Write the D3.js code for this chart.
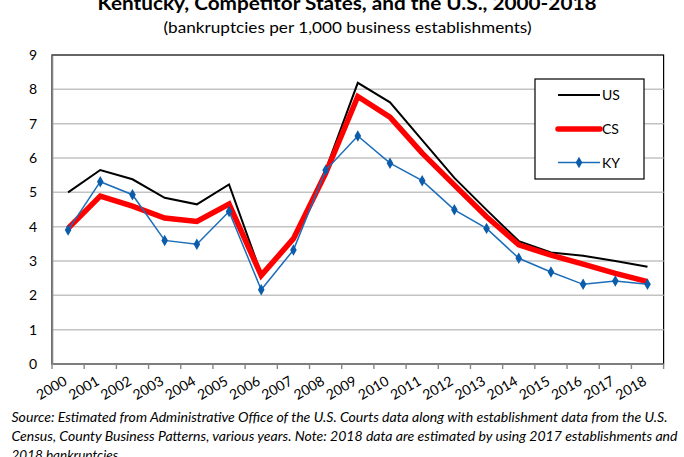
<!DOCTYPE html>
<html>
<head>
<meta charset="utf-8">
<script src="https://cdn.jsdelivr.net/npm/d3@7"></script>
<style>
  html, body { margin: 0; padding: 0; background: #fff; }
  svg { display: block; font-family: Lato, "Open Sans", sans-serif; }
</style>
</head>
<body>
<svg id="chart" width="684" height="457"></svg>
<script>
// Business bankruptcy rates, 2000-2018
const years = ["2000","2001","2002","2003","2004","2005","2006","2007","2008","2009",
               "2010","2011","2012","2013","2014","2015","2016","2017","2018"];
const usValues = [5.0, 5.65, 5.38, 4.84, 4.65, 5.23, 2.62, 3.68, 5.65, 8.19,
                  7.62, 6.52, 5.42, 4.49, 3.58, 3.25, 3.15, 3.0, 2.83];
const csValues = [3.95, 4.89, 4.6, 4.25, 4.15, 4.66, 2.58, 3.65, 5.55, 7.79,
                  7.19, 6.14, 5.21, 4.29, 3.47, 3.17, 2.91, 2.64, 2.40];
const kyValues = [3.90, 5.31, 4.93, 3.60, 3.49, 4.44, 2.16, 3.32, 5.64, 6.64,
                  5.85, 5.34, 4.49, 3.95, 3.08, 2.68, 2.32, 2.42, 2.32];
const yTicks = [0, 1, 2, 3, 4, 5, 6, 7, 8, 9];
const seriesNames = ["US", "CS", "KY"];

const titleText = "Kentucky, Competitor States, and the U.S., 2000-2018";
const subtitleText = "(bankruptcies per 1,000 business establishments)";
const noteLines = [
  "Source: Estimated from Administrative Office of the U.S. Courts data along with establishment data from the U.S.",
  "Census, County Business Patterns, various years.  Note: 2018 data are estimated by using 2017 establishments and",
  "2018 bankruptcies."
];

const svg = d3.select("#chart");
const plot = { left: 52, right: 663.6, top: 55, bottom: 364 };

const x = d3.scaleBand().domain(years).range([plot.left, plot.right]).padding(0);
const y = d3.scaleLinear().domain([0, 9]).range([plot.bottom, plot.top]);
const cx = d => x(d) + x.bandwidth() / 2;

// Title block
svg.append("text")
  .attr("x", 347).attr("y", 9.5)
  .attr("text-anchor", "middle")
  .attr("font-weight", "bold").attr("font-size", 18)
  .attr("textLength", 499).attr("lengthAdjust", "spacingAndGlyphs")
  .attr("fill", "#000")
  .text(titleText);
svg.append("text")
  .attr("x", 347.5).attr("y", 33)
  .attr("text-anchor", "middle")
  .attr("font-size", 15)
  .attr("textLength", 368).attr("lengthAdjust", "spacingAndGlyphs")
  .attr("fill", "#000")
  .text(subtitleText);

// Plot frame
svg.append("rect")
  .attr("x", plot.left).attr("y", plot.top)
  .attr("width", plot.right - plot.left).attr("height", plot.bottom - plot.top)
  .attr("fill", "none").attr("stroke", "#000").attr("stroke-width", 1.2);

// Horizontal gridlines
svg.append("g")
  .selectAll("line")
  .data(yTicks.filter(t => t > 0 && t < 9))
  .join("line")
  .attr("x1", plot.left).attr("x2", plot.right)
  .attr("y1", d => y(d)).attr("y2", d => y(d))
  .attr("stroke", "#c3c3c3").attr("stroke-width", 1.5);

// Y axis
const yAxis = svg.append("g")
  .attr("transform", `translate(${plot.left},0)`)
  .call(d3.axisLeft(y).tickValues(yTicks).tickSize(0).tickPadding(15));
yAxis.select(".domain").attr("stroke", "#868686").attr("stroke-width", 1.6);
yAxis.selectAll("text")
  .attr("font-family", "Lato, sans-serif").attr("font-size", 14).attr("fill", "#000");

// X axis: ticks on category boundaries, rotated labels
const xAxisG = svg.append("g");
xAxisG.append("line")
  .attr("x1", plot.left).attr("x2", plot.right)
  .attr("y1", plot.bottom).attr("y2", plot.bottom)
  .attr("stroke", "#868686").attr("stroke-width", 1.6);
const boundaries = years.map(d => x(d)).concat([x(years[years.length - 1]) + x.bandwidth()]);
xAxisG.selectAll("line.tick")
  .data(boundaries)
  .join("line").attr("class", "tick")
  .attr("x1", d => d).attr("x2", d => d)
  .attr("y1", plot.bottom).attr("y2", plot.bottom + 5)
  .attr("stroke", "#868686").attr("stroke-width", 1.4);
xAxisG.selectAll("text")
  .data(years)
  .join("text")
  .attr("transform", d => `translate(${cx(d)},384) rotate(-30)`)
  .attr("text-anchor", "end")
  .attr("font-size", 14).attr("fill", "#000")
  .text(d => d);

// Series lines
const line = d3.line().x((d, i) => cx(years[i])).y(d => y(d));
const series = [
  { name: "US", values: usValues, color: "#000000", width: 2 },
  { name: "CS", values: csValues, color: "#ff0000", width: 5.5 },
  { name: "KY", values: kyValues, color: "#1b6db9", width: 1.5 }
];
series.forEach(s => {
  svg.append("path")
    .datum(s.values)
    .attr("d", line)
    .attr("fill", "none")
    .attr("stroke", s.color)
    .attr("stroke-width", s.width)
    .attr("stroke-linejoin", "miter");
});

// KY diamond markers
const diamond = d3.symbol().type(d3.symbolDiamond).size(38);
svg.append("g")
  .selectAll("path")
  .data(kyValues)
  .join("path")
  .attr("transform", (d, i) => `translate(${cx(years[i])},${y(d)})`)
  .attr("d", diamond)
  .attr("fill", "#0b5dab");

// Legend
const legend = svg.append("g");
legend.append("rect")
  .attr("x", 535).attr("y", 79).attr("width", 109).attr("height", 100)
  .attr("fill", "#fff").attr("stroke", "#000").attr("stroke-width", 1.2);
const legendY = [95, 129, 162.5];
series.forEach((s, i) => {
  legend.append("line")
    .attr("x1", 558).attr("x2", 600)
    .attr("y1", legendY[i]).attr("y2", legendY[i])
    .attr("stroke", s.color).attr("stroke-width", s.width)
    .attr("stroke-linecap", s.name === "CS" ? "round" : "butt");
  if (s.name === "KY") {
    legend.append("path")
      .attr("transform", `translate(579,${legendY[i]})`)
      .attr("d", diamond).attr("fill", "#0b5dab");
  }
  legend.append("text")
    .attr("x", 602).attr("y", legendY[i]).attr("dy", "0.36em")
    .attr("font-size", 14).attr("fill", "#000")
    .text(seriesNames[i]);
});

// Source note
const noteWidths = [656, 666, 140];
svg.append("g")
  .selectAll("text")
  .data(noteLines)
  .join("text")
  .attr("x", 11.5)
  .attr("y", (d, i) => 422.3 + i * 18.7)
  .attr("font-style", "italic").attr("font-size", 13.5).attr("fill", "#000")
  .each(function(d, i) {
    if (i < 2) d3.select(this).attr("textLength", noteWidths[i]).attr("lengthAdjust", "spacingAndGlyphs");
  })
  .text(d => d);
</script>
</body>
</html>
